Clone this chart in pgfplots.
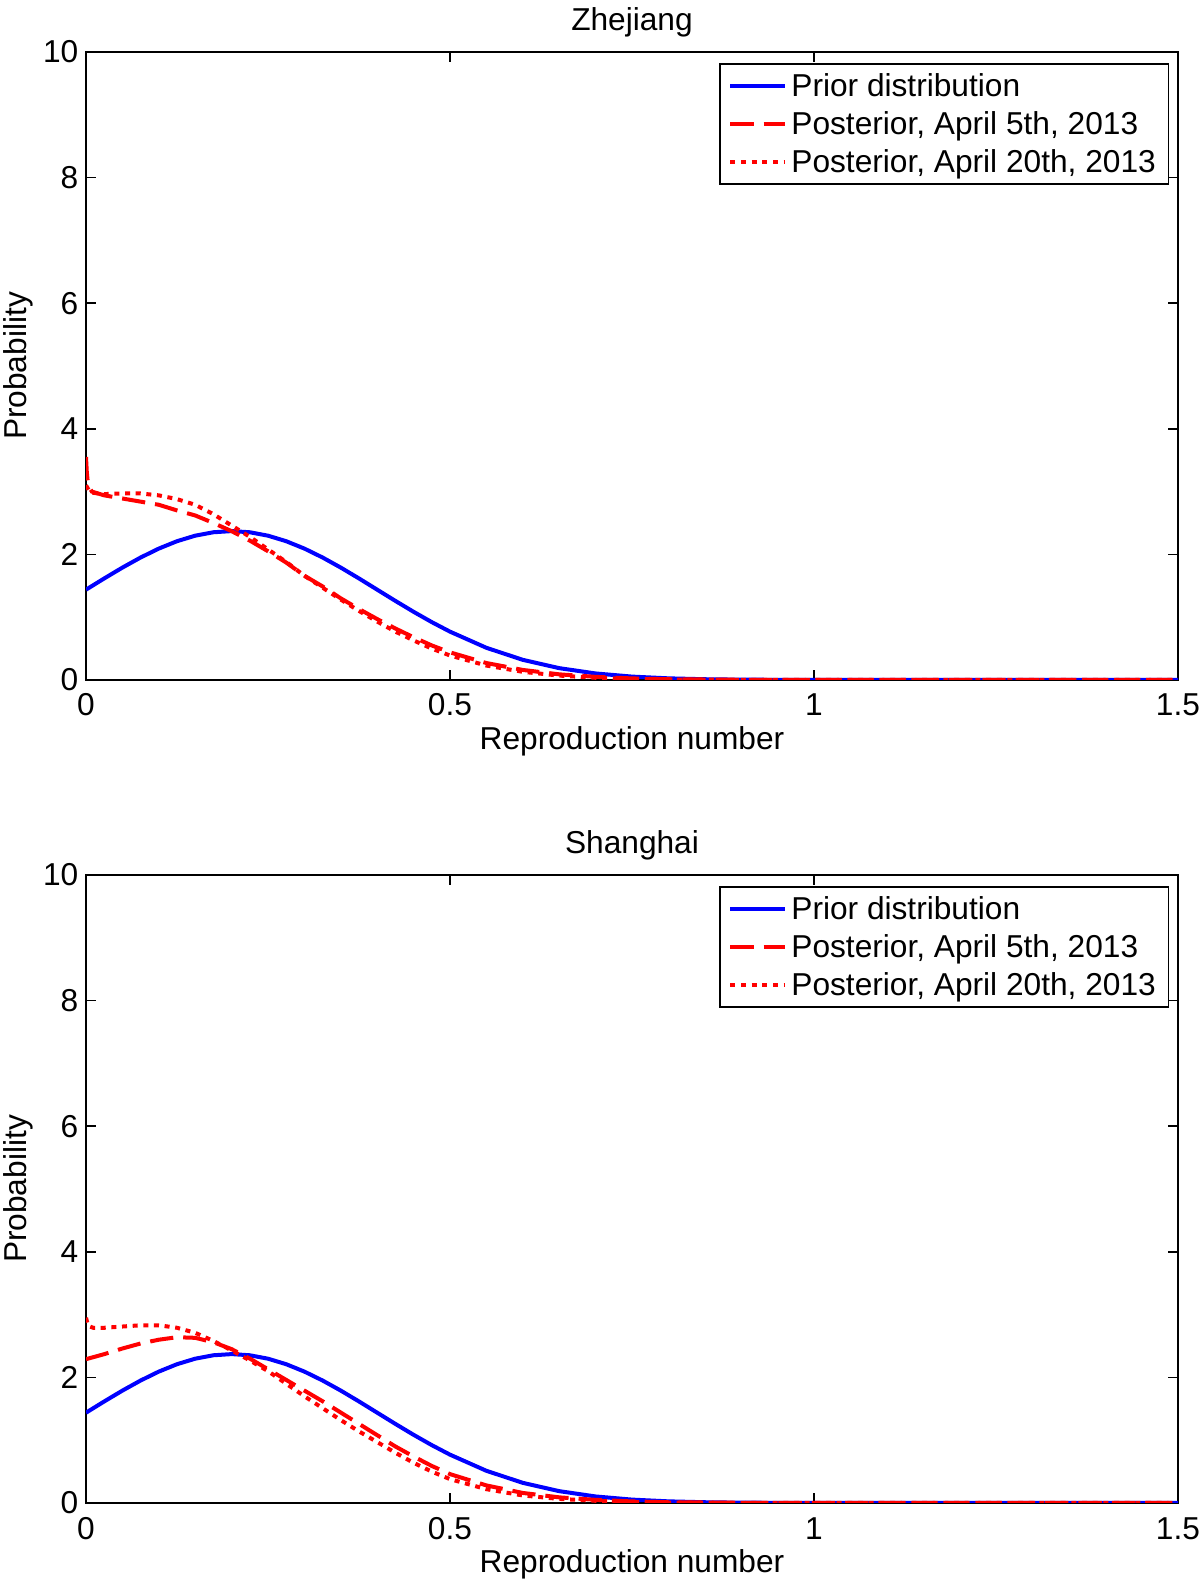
\documentclass[border=0pt]{standalone}
\usepackage{fontspec}
\setmainfont{Liberation Sans}
\usepackage{pgfplots}
\pgfplotsset{compat=1.18}

% prior (same in both panels)
\pgfplotstableread{
x y
0 1.4380
0.025 1.6168
0.05 1.7896
0.075 1.9502
0.1 2.0923
0.125 2.2099
0.15 2.2979
0.175 2.3524
0.2 2.3709
0.225 2.3524
0.25 2.2979
0.275 2.2099
0.3 2.0923
0.325 1.9502
0.35 1.7896
0.375 1.6168
0.4 1.4380
0.425 1.2592
0.45 1.0855
0.475 0.9213
0.5 0.7697
0.55 0.5127
0.6 0.3209
0.65 0.1886
0.7 0.1042
0.75 0.0540
0.8 0.0263
0.85 0.0121
0.9 0.0052
1.0 0.0008
1.1 0.0001
1.5 0
}\prior

\pgfplotstableread{
x y
0 3.55
0.001 3.33
0.002 3.2
0.004 3.08
0.008 3.0
0.025 2.94
0.05 2.89
0.075 2.84
0.1 2.79
0.125 2.7
0.15 2.62
0.175 2.5
0.2 2.37
0.225 2.22
0.25 2.05
0.275 1.87
0.3 1.66
0.325 1.49
0.35 1.3
0.375 1.13
0.4 0.97
0.425 0.82
0.45 0.68
0.475 0.55
0.5 0.44
0.55 0.27
0.6 0.16
0.65 0.09
0.7 0.05
0.75 0.025
0.8 0.012
0.9 0.003
1.0 0.0005
1.5 0
}\zjfive

\pgfplotstableread{
x y
0 3.1
0.004 3.02
0.01 2.98
0.025 2.96
0.05 2.97
0.075 2.97
0.1 2.94
0.125 2.88
0.15 2.79
0.175 2.64
0.2 2.46
0.225 2.28
0.25 2.08
0.275 1.88
0.3 1.66
0.325 1.47
0.35 1.28
0.375 1.1
0.4 0.93
0.425 0.77
0.45 0.63
0.475 0.5
0.5 0.39
0.55 0.23
0.6 0.13
0.65 0.07
0.7 0.035
0.75 0.017
0.8 0.008
0.9 0.002
1.0 0.0003
1.5 0
}\zjtwenty

\pgfplotstableread{
x y
0 2.29
0.025 2.37
0.05 2.46
0.075 2.54
0.1 2.6
0.125 2.64
0.15 2.63
0.175 2.56
0.2 2.45
0.225 2.3
0.25 2.13
0.275 1.96
0.3 1.79
0.325 1.62
0.35 1.44
0.375 1.26
0.4 1.08
0.425 0.9
0.45 0.74
0.475 0.59
0.5 0.46
0.55 0.28
0.6 0.16
0.65 0.09
0.7 0.05
0.75 0.025
0.8 0.012
0.9 0.003
1.0 0.0005
1.5 0
}\shfive

\pgfplotstableread{
x y
0 2.95
0.003 2.82
0.01 2.79
0.025 2.79
0.05 2.81
0.075 2.83
0.1 2.83
0.125 2.79
0.15 2.71
0.175 2.58
0.2 2.43
0.225 2.27
0.25 2.1
0.275 1.9
0.3 1.7
0.325 1.51
0.35 1.32
0.375 1.14
0.4 0.97
0.425 0.8
0.45 0.64
0.475 0.5
0.5 0.38
0.55 0.22
0.6 0.12
0.65 0.065
0.7 0.035
0.75 0.017
0.8 0.008
0.9 0.002
1.0 0.0003
1.5 0
}\shtwenty

\pgfplotsset{
  panel/.style={
    scale only axis,width=327.6pt,height=188.4pt,
    xmin=0,xmax=1.5,ymin=0,ymax=10,
    xtick={0,0.5,1,1.5},ytick={0,2,4,6,8,10},
    tick pos=both,tick align=inside,major tick length=3pt,
    axis line style={line width=0.6pt},
    every tick/.style={black,line width=0.5pt},
    font=\fontsize{9.5}{11}\selectfont,
    /pgf/number format/assume math mode=true,
    xticklabel style={anchor=base,yshift=-10.8pt},
    yticklabel style={anchor=east,inner sep=0pt,xshift=-2.1pt},
    xlabel={Reproduction number},ylabel={Probability},
    xlabel style={at={(axis description cs:0.5,-0.110)},anchor=base},
    ylabel style={at={(axis description cs:-0.0549,0.5)},anchor=base,rotate=0},
    title style={at={(axis description cs:0.5,1.0026)},anchor=base},
    legend style={at={(axis description cs:0.992,0.9825)},anchor=north east,
      draw=black,line width=0.5pt,fill=white,inner xsep=2.6pt,inner ysep=0.9pt,
      row sep=0pt,
      nodes={inner xsep=1.2pt,inner ysep=1.1pt,text height=7.9pt,text depth=1.3pt},
      cells={anchor=west}},
    legend image code/.code={\draw[#1] (0pt,0pt) -- (16.5pt,0pt);},
  },
  prior/.style={blue,line width=1.2pt},
  pfive/.style={red,line width=1.2pt,dash pattern=on 7pt off 3pt},
  ptwenty/.style={red,line width=1.2pt,dash pattern=on 1.5pt off 1.7pt},
}

\begin{document}
\begin{tikzpicture}
\useasboundingbox (0,0) rectangle (360pt,473.7pt);
\begin{axis}[panel,title={Zhejiang},at={(25.8pt,269.7pt)},anchor=south west]
\addplot[prior] table[x=x,y=y] {\prior};
\addplot[pfive] table[x=x,y=y] {\zjfive};
\addplot[ptwenty] table[x=x,y=y] {\zjtwenty};
\legend{Prior distribution,{Posterior, April 5th, 2013},{Posterior, April 20th, 2013}}
\end{axis}
\begin{axis}[panel,title={Shanghai},at={(25.8pt,22.8pt)},anchor=south west]
\addplot[prior] table[x=x,y=y] {\prior};
\addplot[pfive] table[x=x,y=y] {\shfive};
\addplot[ptwenty] table[x=x,y=y] {\shtwenty};
\legend{Prior distribution,{Posterior, April 5th, 2013},{Posterior, April 20th, 2013}}
\end{axis}
\end{tikzpicture}
\end{document}
